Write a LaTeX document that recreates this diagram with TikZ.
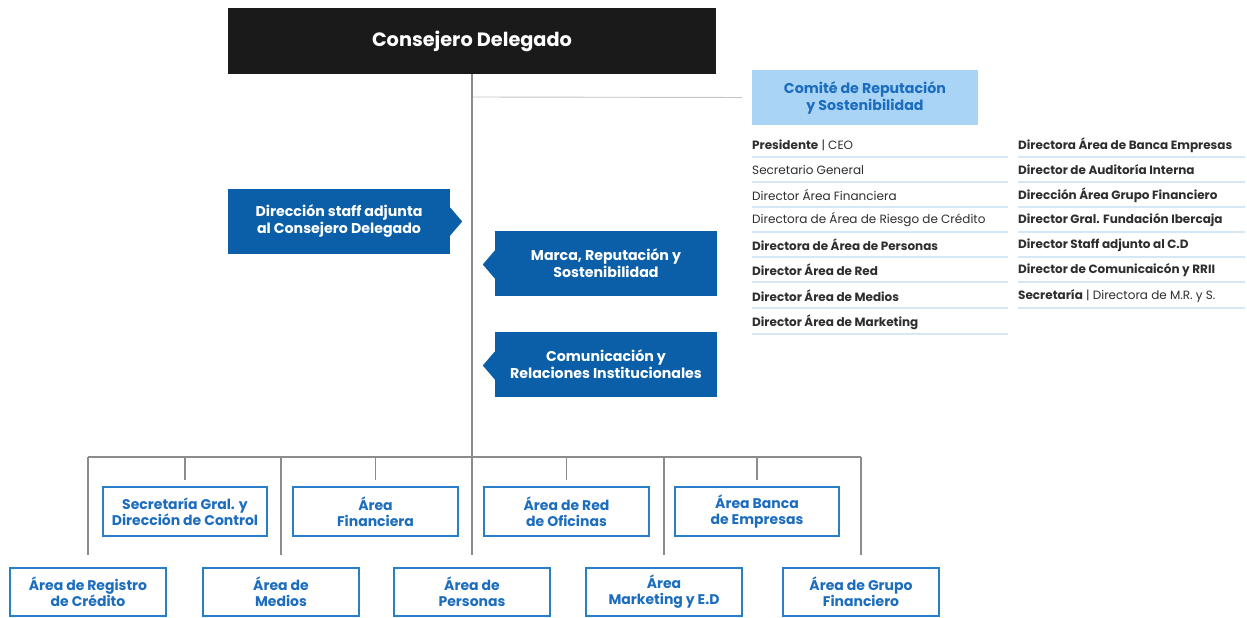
\documentclass[tikz,border=0pt]{standalone}
\usepackage{fontspec}
\setmainfont{Poppins}
\usetikzlibrary{calc}
\definecolor{dblue}{HTML}{0B5FA8}
\definecolor{oblue}{HTML}{2A7DC9}
\definecolor{tblue}{HTML}{1C6DBE}
\definecolor{lblue}{HTML}{A9D4F6}
\definecolor{sepblue}{HTML}{D5E8F8}
\definecolor{lgray}{HTML}{8C8C8C}
\definecolor{thgray}{HTML}{C4C4C4}
\definecolor{txt}{HTML}{2E2E2E}
\definecolor{headblack}{HTML}{1A1A1A}
\tikzset{
  headbox/.style={fill=headblack, text=white, minimum width=488pt, minimum height=66pt, inner sep=0pt,
    font=\fontsize{19.3}{22}\selectfont\bfseries},
  staffbox/.style={fill=dblue, text=white, minimum width=222pt, minimum height=65pt, inner sep=0pt,
    align=center, font=\fontsize{14.2}{17}\selectfont\bfseries},
  comitebox/.style={fill=lblue, text=tblue, minimum width=226pt, minimum height=55pt, inner sep=0pt,
    align=center, font=\fontsize{14.2}{17}\selectfont\bfseries},
  upbox/.style={draw=oblue, line width=1.6pt, fill=white, text=tblue, minimum width=164.5pt,
    minimum height=49pt, inner sep=0pt, align=center, font=\fontsize{14}{16}\selectfont\bfseries},
  lowbox/.style={upbox, minimum width=156.5pt, minimum height=48.5pt},
  listitem/.style={anchor=west, inner sep=0pt, text=txt, font=\fontsize{12}{13}\selectfont},
  conn/.style={draw=lgray, line width=1.8pt},
  thinconn/.style={draw=thgray, line width=0.9pt},
  sepline/.style={draw=sepblue, line width=1.2pt},
}
\begin{document}
\begin{tikzpicture}[x=1pt,y=-1pt]
\useasboundingbox (0,0) rectangle (1247,618);
\fill[white] (0,0) rectangle (1247,618);

% head
\node[headbox] (head) at (472,41) {Consejero Delegado};

% staff boxes
\node[staffbox] (staff) at (339,221.5) {Dirección staff adjunta\\al Consejero Delegado};
\node[staffbox] (marca) at (606,263.5) {Marca, Reputación y\\Sostenibilidad};
\node[staffbox] (comu) at (606,364.5) {Comunicación y\\Relaciones Institucionales};
\fill[dblue] ($(staff.east)+(0,-14)$) -- ($(staff.east)+(12,0)$) -- ($(staff.east)+(0,14)$) -- cycle;
\fill[dblue] ($(marca.west)+(0,-13)$) -- ($(marca.west)+(-12,1)$) -- ($(marca.west)+(0,15)$) -- cycle;
\fill[dblue] ($(comu.west)+(0,-13)$) -- ($(comu.west)+(-12,1)$) -- ($(comu.west)+(0,15)$) -- cycle;

% comite
\node[comitebox] (comite) at (865,97.5) {Comité de Reputación\\y Sostenibilidad};
\coordinate (tap) at (472,97);
\draw[thinconn, shorten >=10pt] (tap) -- (comite.west);

% list
\foreach \i/\y/\t in {
  1/145/{\textbf{Presidente} | CEO},
  2/170/{Secretario General},
  3/195/{Director Área Financiera},
  4/220/{Directora de Área de Riesgo de Crédito},
  5/245/{\textbf{Directora de Área de Personas}},
  6/270/{\textbf{Director Área de Red}},
  7/296/{\textbf{Director Área de Medios}},
  8/322/{\textbf{Director Área de Marketing}}}{
  \node[listitem] (l\i) at (752,\y) {\t};
  \draw[sepline] (752,\y+12) -- (1008,\y+12);
}
\foreach \i/\y/\t in {
  1/145/{\textbf{Directora Área de Banca Empresas}},
  2/170/{\textbf{Director de Auditoría Interna}},
  3/195/{\textbf{Dirección Área Grupo Financiero}},
  4/220/{\textbf{Director Gral. Fundación Ibercaja}},
  5/245/{\textbf{Director Staff adjunto al C.D}},
  6/270/{\textbf{Director de Comunicaicón y RRII}},
  7/296/{\textbf{Secretaría} | Directora de M.R. y S.}}{
  \node[listitem] (r\i) at (1018,\y) {\t};
  \draw[sepline] (1018,\y+12) -- (1245,\y+12);
}

% units
\node[upbox] (sec) at (185,511.5) {Secretaría Gral. y\\Dirección de Control};
\node[upbox] (fin) at (375.5,511.5) {Área\\Financiera};
\node[upbox] (red) at (566.5,511.5) {Área de Red\\de Oficinas};
\node[upbox] (banca) at (757,511.5) {Área Banca\\de Empresas};

\node[lowbox] (reg) at (88,592) {Área de Registro\\de Crédito};
\node[lowbox] (med) at (281,592) {Área de\\Medios};
\node[lowbox] (per) at (472,592) {Área de\\Personas};
\node[lowbox] (mkt) at (664,592) {Área\\Marketing y E.D};
\node[lowbox] (grp) at (861,592) {Área de Grupo\\Financiero};

\coordinate (busy) at (0,457);
% trunk
\draw[conn, shorten >=12pt] (head.south) -- (per.north);
% bus
\draw[conn] (reg.north |- busy) -- (grp.north |- busy);
\foreach \b in {sec,fin,red,banca}{
  \draw[conn, shorten >=6pt] (\b.north |- busy) -- (\b.north);
}
\foreach \b in {reg,med,mkt,grp}{
  \draw[conn, shorten >=12pt] (\b.north |- busy) -- (\b.north);
}
\end{tikzpicture}
\end{document}
